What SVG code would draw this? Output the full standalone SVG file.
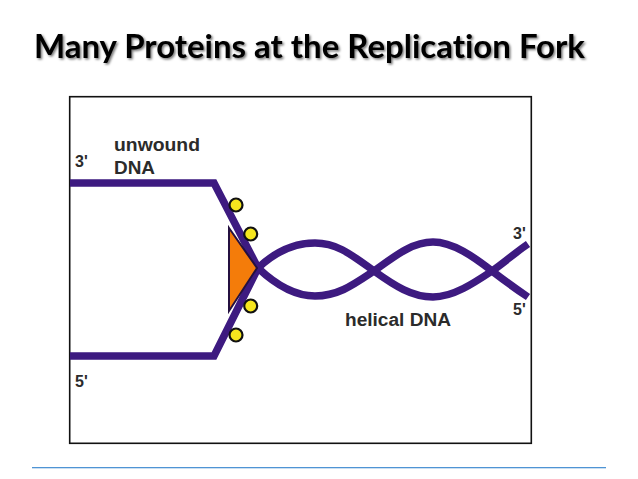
<svg xmlns="http://www.w3.org/2000/svg" width="638" height="479" viewBox="0 0 638 479">
<defs>
<style>
.strand{fill:none;stroke:#3d1a80;stroke-width:7.500;stroke-linejoin:miter}
.ssb{fill:#f6e61e;stroke:#111;stroke-width:2.200}
.lab{font-family:"Liberation Sans",Arial,sans-serif;font-weight:bold;fill:#2b2b2b}
</style>
<filter id="shadow" x="-5%" y="-30%" width="110%" height="170%"><feDropShadow dx="1.500" dy="1.500" stdDeviation="1.200" flood-color="#000" flood-opacity="0.550"/></filter>
</defs>
<rect width="638" height="479" fill="#fff"/>
<text id="title" x="34" y="58" font-family="Lato,'Open Sans',sans-serif" font-weight="bold" font-size="31.500" fill="#000" filter="url(#shadow)" textLength="551" lengthAdjust="spacingAndGlyphs" style="font-variant-ligatures:none">Many Proteins at the Replication Fork</text>
<rect id="frame" x="69.700" y="96.700" width="461.600" height="346.600" fill="#fff" stroke="#111" stroke-width="1.600"/>
<g id="connectors">
<path class="strand" d="M70 183H214L258 268C276 251 295 243 315 243C338 243 353 256 374 271C395 286 412 297 433 297C453 297 474 283 492 271C505 262 516 252 528 244"/>
<path class="strand" d="M70 356H214L258 268C276 285 295 296 315 296C338 296 353 285 374 271C395 256 412 242 433 242C453 242 474 257 492 271C505 281 516 289 528 297"/>
</g>
<g id="helicase"><path d="M229 228L257 268L229 311Z" fill="#f47c0a" stroke="#241040" stroke-width="2"/></g>
<g id="ssb1"><circle class="ssb" cx="236" cy="205" r="6.500"/></g>
<g id="ssb2"><circle class="ssb" cx="250.700" cy="234" r="6.500"/></g>
<g id="ssb3"><circle class="ssb" cx="250.700" cy="306" r="6.500"/></g>
<g id="ssb4"><circle class="ssb" cx="236" cy="335" r="6.500"/></g>
<g id="labels">
<text class="lab" x="114" y="151" font-size="18" textLength="86" lengthAdjust="spacingAndGlyphs">unwound</text>
<text class="lab" x="114" y="174" font-size="18" textLength="41" lengthAdjust="spacingAndGlyphs">DNA</text>
<text class="lab" x="75" y="167" font-size="16">3'</text>
<text class="lab" x="75" y="387" font-size="16">5'</text>
<text class="lab" x="513" y="239" font-size="16">3'</text>
<text class="lab" x="513" y="315" font-size="16">5'</text>
<text class="lab" x="345" y="326" font-size="18" textLength="106" lengthAdjust="spacingAndGlyphs">helical DNA</text>
</g>
<rect id="rule" x="32" y="467" width="574" height="1.300" fill="#4f94d4"/>
</svg>
